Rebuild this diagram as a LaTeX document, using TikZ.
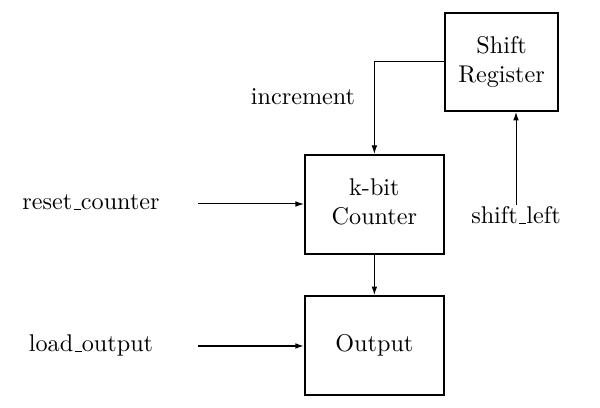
\documentclass[tikz,border=0pt]{standalone}
\usepackage{amsmath, amssymb}
\usepackage{tikz}
\usetikzlibrary{arrows.meta}

% enlarged 10pt text, as in the drawing
\newcommand{\bigtxt}[1]{\scalebox{1.72}{\begin{tabular}{@{}c@{}}#1\end{tabular}}}
\newcommand{\usc}{\leavevmode\kern.06em\vbox{\hrule width.3em}}

\begin{document}
\begin{tikzpicture}[
    block/.style={draw, line width=1.4pt, minimum width=3.475cm, minimum height=2.475cm, inner sep=0pt},
    sig/.style={inner sep=0pt},
    wire/.style={line width=0.7pt, -{Latex[length=6pt, width=4pt]}}
  ]
    \useasboundingbox (0,0) rectangle (15,10.2);
    % Blocks
    \node[block, minimum width=2.825cm, minimum height=2.45cm] (shreg) at (12.54,8.65) {\bigtxt{Shift\\Register}};
    \node[block] (counter) at (9.36,5.09) {\bigtxt{k-bit\\Counter}};
    \node[block] (output) at (9.36,1.5625) {\bigtxt{Output}};
    % Signal labels
    \node[sig] (incr) at (7.575,7.725) {\bigtxt{increment}};
    \node[sig] (reset) at (2.275,5.1) {\bigtxt{reset\usc counter}};
    \node[sig] (load) at (2.275,1.55) {\bigtxt{load\usc output}};
    \node[sig] (shl) at (12.9,4.75) {\bigtxt{shift\usc left}};
    % Wire ends
    \coordinate (rstin) at (4.95,5.1);
    \coordinate (ldin) at (4.95,1.55);
    \coordinate (shlin) at (12.9,5.075);
    % Connections
    \draw[wire] (shreg.west) -| (counter.north);
    \draw[wire] (rstin) -- (rstin -| counter.west);
    \draw[wire, line width=1pt] (ldin) -- (ldin -| output.west);
    \draw[wire] (counter.south) -- (output.north);
    \draw[wire] (shlin) -- (shlin |- shreg.south);
\end{tikzpicture}
\end{document}
